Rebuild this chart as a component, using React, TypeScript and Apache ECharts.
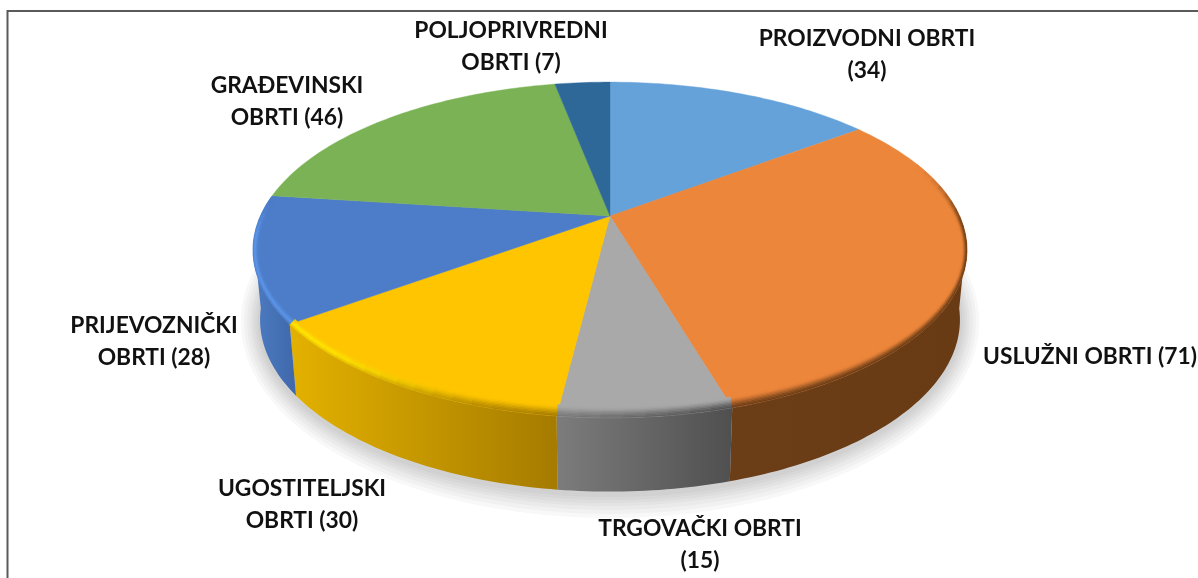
import React, { useEffect, useRef } from "react";
import * as echarts from "echarts";

const categories = ["PROIZVODNI OBRTI", "USLUŽNI OBRTI", "TRGOVAČKI OBRTI", "UGOSTITELJSKI OBRTI", "PRIJEVOZNIČKI OBRTI", "GRAĐEVINSKI OBRTI", "POLJOPRIVREDNI OBRTI"];
const values = [34, 71, 15, 30, 28, 46, 7];

const labelLines = [
  ["PROIZVODNI OBRTI", "(34)"],
  ["USLUŽNI OBRTI (71)"],
  ["TRGOVAČKI OBRTI", "(15)"],
  ["UGOSTITELJSKI", "OBRTI (30)"],
  ["PRIJEVOZNIČKI", "OBRTI (28)"],
  ["GRAĐEVINSKI", "OBRTI (46)"],
  ["POLJOPRIVREDNI", "OBRTI (7)"],
];
const labelCenters = [
  [867, 53],
  [1090, 355],
  [700, 543],
  [302, 503],
  [154, 340],
  [287, 100],
  [511, 45],
];

const faceColors = ["#66A2DA", "#EC863B", "#A9A9A9", "#FEC500", "#4D7DC8", "#7BB255", "#2E6899"];
const highlightColors = ["#66A2DA", "#EC863B", "#A9A9A9", "#FFE800", "#5E98EC", "#7BB255", "#2E6899"];
const wallLeft = ["#4A7AA5", "#6C3E18", "#7C7C7C", "#E2B000", "#4A78BE", "#5C8540", "#224E73"];
const wallRight = ["#4A7AA5", "#683B15", "#505050", "#A57B00", "#3F68AA", "#5C8540", "#224E73"];

const total = values.reduce((a, b) => a + b, 0);
const starts: number[] = [];
values.reduce((acc, v, i) => {
  starts[i] = acc;
  return acc + v;
}, 0);
const angleOf = (cum: number) => (cum / total) * 360;

const K = 0.2024;
const TOP = { cx: 610, cy: 216, a: 161, b: 349.6 };
const BOTTOM = { cx: 610, cy: 285, a: 164.8, b: 342.7 };
const RIM_CY = 250;
// Only this part of the round is seen from the front.
const FRONT_FROM = 98;
const FRONT_TO = 262;

type G = typeof TOP;
const project = (deg: number, g: G): [number, number] => {
  const t = (deg * Math.PI) / 180;
  const d = 1 + K * Math.cos(t);
  return [g.cx + (g.b * Math.sin(t)) / d, g.cy - (g.a * Math.cos(t)) / d];
};
const sampleAngles = (a0: number, a1: number, step: number) => {
  const out: number[] = [];
  const n = Math.max(1, Math.ceil((a1 - a0) / step));
  for (let i = 0; i <= n; i++) out.push(a0 + ((a1 - a0) * i) / n);
  return out;
};
const rgb = (hex: string) => [1, 3, 5].map((i) => parseInt(hex.slice(i, i + 2), 16));
const lerpC = (a: number[], b: number[], t: number) => a.map((v, i) => v + (b[i] - v) * t);
const css = (c: number[]) => `rgb(${c.map((v) => Math.round(v)).join(",")})`;
const smooth = (a: number, b: number, x: number) => {
  const t = Math.min(1, Math.max(0, (x - a) / (b - a)));
  return t * t * (3 - 2 * t);
};

const sliceRange = (i: number) => [angleOf(starts[i]), angleOf(starts[i] + values[i])];

const wallRangeX = (i: number) => {
  const [a0, a1] = sliceRange(i);
  const xs = sampleAngles(Math.max(a0, FRONT_FROM), Math.min(a1, FRONT_TO), 2).map((d) => project(d, BOTTOM)[0]);
  return [Math.min(...xs), Math.max(...xs)];
};
const wallAt = (i: number, x: number) => {
  const [x0, x1] = wallRangeX(i);
  return lerpC(rgb(wallLeft[i]), rgb(wallRight[i]), Math.min(1, Math.max(0, (x - x0) / (x1 - x0 || 1))));
};

const renderWall = (params: any) => {
  const i = params.dataIndex;
  const [a0, a1] = sliceRange(i);
  const lo = Math.max(a0, FRONT_FROM);
  const hi = Math.min(a1, FRONT_TO);
  if (hi <= lo) return { type: "group", children: [] };
  const as = sampleAngles(lo, hi, 1);
  const points = [...as.map((d) => project(d, TOP)), ...as.slice().reverse().map((d) => project(d, BOTTOM))];
  const [x0, x1] = wallRangeX(i);
  return {
    type: "polygon",
    silent: true,
    shape: { points },
    style: {
      fill: new echarts.graphic.LinearGradient(x0, 0, x1, 0, [
        { offset: 0, color: wallLeft[i] },
        { offset: 1, color: wallRight[i] },
      ], true),
    },
  };
};

const renderFace = (params: any) => {
  const i = params.dataIndex;
  const [a0, a1] = sliceRange(i);
  const points = [[TOP.cx, TOP.cy], ...sampleAngles(a0, a1, 1).map((d) => project(d, TOP))];
  return {
    type: "polygon",
    silent: true,
    shape: { points },
    style: { fill: faceColors[i], stroke: faceColors[i], lineWidth: 0.4 },
  };
};

const BEVEL_RINGS = 8;
const insetPoint = (p: [number, number], w: number): [number, number] => [
  TOP.cx + (p[0] - TOP.cx) * (1 - 0.015 * w),
  RIM_CY + (p[1] - RIM_CY) * (1 - 0.068 * w),
];
const bevelColor = (i: number, deg: number, x: number, w: number) => {
  const F = rgb(faceColors[i]);
  const H = rgb(highlightColors[i]);
  const W = wallAt(i, x);
  const plain = lerpC(W, F, smooth(0, 1, w));
  const hi = w < 0.4 ? lerpC(lerpC(W, H, 0.35), H, w / 0.4) : lerpC(H, F, (w - 0.4) / 0.6);
  const h = smooth(195, 228, deg);
  const amp = smooth(70, 95, deg) * (1 - smooth(262, 276, deg));
  return lerpC(F, lerpC(plain, hi, h), amp);
};
const renderBevel = (params: any) => {
  const i = params.dataIndex;
  const [a0, a1] = sliceRange(i);
  const lo = Math.max(a0, 70);
  const hi = Math.min(a1, 277);
  if (hi <= lo) return { type: "group", children: [] };
  const as = sampleAngles(lo, hi, 3);
  const children: any[] = [];
  for (let r = 0; r < BEVEL_RINGS; r++) {
    const w0 = r / BEVEL_RINGS;
    const w1 = (r + 1) / BEVEL_RINGS;
    for (let s = 0; s < as.length - 1; s++) {
      const p0 = project(as[s], TOP);
      const p1 = project(as[s + 1], TOP);
      const c = css(bevelColor(i, (as[s] + as[s + 1]) / 2, (p0[0] + p1[0]) / 2, (w0 + w1) / 2));
      children.push({
        type: "polygon",
        silent: true,
        shape: { points: [insetPoint(p0, w0), insetPoint(p1, w0), insetPoint(p1, w1), insetPoint(p0, w1)] },
        style: { fill: c, stroke: c, lineWidth: 0.5 },
      });
    }
  }
  return { type: "group", children };
};

const SHADOW_STEPS = [24, 20, 16, 12, 9, 6, 3];
const renderShadow = () => ({
  type: "group",
  children: SHADOW_STEPS.map((g) => ({
    type: "ellipse",
    silent: true,
    shape: { cx: 610, cy: 322, rx: 350 + g * 0.8, ry: 172 + g },
    style: { fill: "rgba(60,60,60,0.035)" },
  })),
});

export default function App() {
  const ref = useRef<HTMLDivElement>(null);
  useEffect(() => {
    const chart = echarts.init(ref.current!, undefined, { renderer: "svg" });
    const data = values.map((v, i) => ({ name: categories[i], value: [v] }));
    chart.setOption({
      animation: false,
      backgroundColor: "#ffffff",
      series: [
        { type: "custom", coordinateSystem: "none", z: 1, data: [[1]], renderItem: renderShadow, silent: true },
        { type: "custom", coordinateSystem: "none", z: 2, data, renderItem: renderWall, silent: true },
        { type: "custom", coordinateSystem: "none", z: 3, data, renderItem: renderFace, silent: true },
        { type: "custom", coordinateSystem: "none", z: 4, data, renderItem: renderBevel, silent: true },
      ],
      graphic: [
        {
          type: "rect",
          silent: true,
          shape: { x: 7.5, y: 11, width: 1300, height: 700 },
          style: { fill: "none", stroke: "#5a5a5a", lineWidth: 2 },
          z: 0,
        },
        ...labelLines.map((lines, i) => ({
          type: "text",
          silent: true,
          x: labelCenters[i][0],
          y: labelCenters[i][1],
          z: 10,
          style: {
            text: lines.join("\n"),
            fontFamily: "Lato",
            fontWeight: "bold",
            fontSize: 22.8,
            lineHeight: 32,
            fill: "#111111",
            align: "center",
            verticalAlign: "middle",
          },
        })),
      ],
    });
    return () => chart.dispose();
  }, []);
  return <div ref={ref} style={{ position: "fixed", left: 0, top: 0, width: 1198, height: 578, filter: "blur(0.4px)" }} />;
}
